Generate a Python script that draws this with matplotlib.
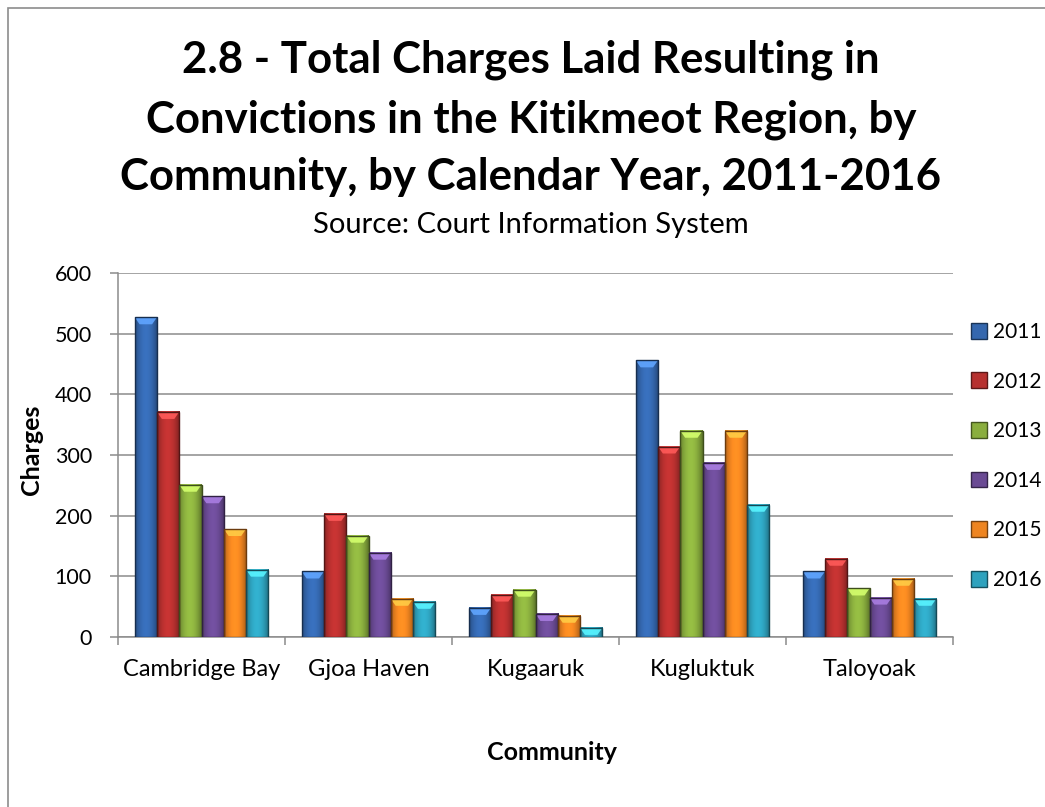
import numpy as np
import matplotlib
matplotlib.use("Agg")
import matplotlib.pyplot as plt
from matplotlib.patches import Rectangle, Polygon
from matplotlib.colors import to_rgb

communities = ["Cambridge Bay", "Gjoa Haven", "Kugaaruk", "Kugluktuk", "Taloyoak"]
years = ["2011", "2012", "2013", "2014", "2015", "2016"]

charges_2011 = [527, 108, 48, 456, 108]
charges_2012 = [371, 203, 70, 314, 129]
charges_2013 = [251, 167, 78, 340, 80]
charges_2014 = [232, 139, 38, 287, 65]
charges_2015 = [178, 63, 35, 340, 96]
charges_2016 = [111, 58, 15, 218, 63]
series = [charges_2011, charges_2012, charges_2013,
          charges_2014, charges_2015, charges_2016]

y_ticks = [0, 100, 200, 300, 400, 500, 600]

colors = ["#3467AE", "#B7302F", "#8AAE3E", "#6A4A94", "#EE8420", "#2EA2BE"]

FONT = "Lato"
GRAY = "#8c8c8c"
W, H = 1045, 807
fig = plt.figure(figsize=(W / 100, H / 100), dpi=100)
fig.patch.set_facecolor("white")

# outer chart frame (runs off the right and bottom edges)
fig.add_artist(Rectangle((8 / W, -0.05), 1.2, 1 - 7.5 / H + 0.05,
                         transform=fig.transFigure, fill=False,
                         edgecolor=GRAY, linewidth=1.2))

ax = fig.add_axes([118 / W, 1 - 637 / H, (953 - 118) / W, (637 - 273) / H])

n_series = len(series)
gap = 1.5
bw = 1.0 / (n_series + gap)
x = np.arange(len(communities))

ymax = 600
px_y = ymax / (637 - 273)


def shade(rgb, t):
    # darker at the edges, lighter just left of the centre
    f = 0.72 + 0.42 * np.sin(np.pi * t) ** 0.8 - 0.08 * t
    return np.clip(np.outer(f, rgb), 0, 1)


t = np.linspace(0, 1, 64)
for i, (vals, col) in enumerate(zip(series, colors)):
    rgb = np.array(to_rgb(col))
    grad = shade(rgb, t)[None, :, :]
    for j, v in enumerate(vals):
        x0 = x[j] - 0.5 + gap / 2 * bw + i * bw
        x1 = x0 + bw
        # soft shadow
        ax.add_patch(Rectangle((x0 + 0.006, -2), bw, v, facecolor="#000000",
                               alpha=0.12, edgecolor="none", zorder=2))
        ax.imshow(grad, extent=[x0, x1, 0, v], aspect="auto",
                  interpolation="bicubic", zorder=3)
        # bevel cap highlight
        d = 7 * px_y
        cap = Polygon([[x0, v], [x1, v], [x1 - bw * 0.22, v - d],
                       [x0 + bw * 0.22, v - d]], closed=True,
                      facecolor=np.clip(rgb * 1.35 + 0.1, 0, 1),
                      edgecolor="none", alpha=0.9, zorder=4)
        ax.add_patch(cap)
        ax.add_patch(Rectangle((x0, 0), bw, v, fill=False,
                               edgecolor=np.clip(rgb * 0.45, 0, 1),
                               linewidth=1.0, zorder=5))

ax.set_xlim(-0.5, len(communities) - 0.5)
ax.set_ylim(0, ymax)
ax.set_yticks(y_ticks)
ax.set_yticklabels([str(v) for v in y_ticks])
ax.yaxis.grid(True, color=GRAY, linewidth=1.1)
ax.set_axisbelow(True)

ax.set_xticks(x)
ax.set_xticklabels(communities)
ax.set_xticks(np.arange(len(communities) + 1) - 0.5, minor=True)
ax.tick_params(axis="x", which="major", length=0, pad=16)
ax.tick_params(axis="x", which="minor", length=5.8, width=1.1, color=GRAY)
ax.tick_params(axis="y", length=5.8, width=1.1, color=GRAY, pad=13)

for sp in ["top", "right"]:
    ax.spines[sp].set_visible(False)
for sp in ["left", "bottom"]:
    ax.spines[sp].set_color(GRAY)
    ax.spines[sp].set_linewidth(1.1)

for lab in ax.get_xticklabels():
    lab.set_fontfamily(FONT)
    lab.set_fontsize(17)
    lab.set_color("#000000")
for lab in ax.get_yticklabels():
    lab.set_fontfamily(FONT)
    lab.set_fontsize(15.5)
    lab.set_color("#000000")

# legend
handles = [Rectangle((0, 0), 1, 1, facecolor=c,
                     edgecolor=np.clip(np.array(to_rgb(c)) * 0.5, 0, 1))
           for c in colors]
leg = fig.legend(handles, years, loc="upper left",
                 bbox_to_anchor=(971 / W, 1 - 322 / H),
                 frameon=False, prop={"family": FONT, "size": 15},
                 handlelength=0.78, handleheight=0.78, handletextpad=0.3,
                 labelspacing=1.42, borderpad=0, borderaxespad=0)

cx = 531 / W
fig.text(cx, 1 - 73 / H, "2.8 - Total Charges Laid Resulting in",
         ha="center", va="baseline", fontsize=31.5, fontweight="bold", family=FONT)
fig.text(cx, 1 - 132 / H, "Convictions in the Kitikmeot Region, by",
         ha="center", va="baseline", fontsize=31.5, fontweight="bold", family=FONT)
fig.text(cx, 1 - 190 / H, "Community, by Calendar Year, 2011-2016",
         ha="center", va="baseline", fontsize=31.5, fontweight="bold", family=FONT)
fig.text(cx, 1 - 233 / H, "Source: Court Information System",
         ha="center", va="baseline", fontsize=21, family=FONT)

fig.text(32 / W, 1 - 450 / H, "Charges", rotation=90, ha="center", va="center",
         fontsize=18, fontweight="bold", family=FONT)
fig.text(552 / W, 1 - 752 / H, "Community", ha="center", va="center",
         fontsize=18, fontweight="bold", family=FONT)

fig.savefig("out.png", dpi=100, facecolor="white")
